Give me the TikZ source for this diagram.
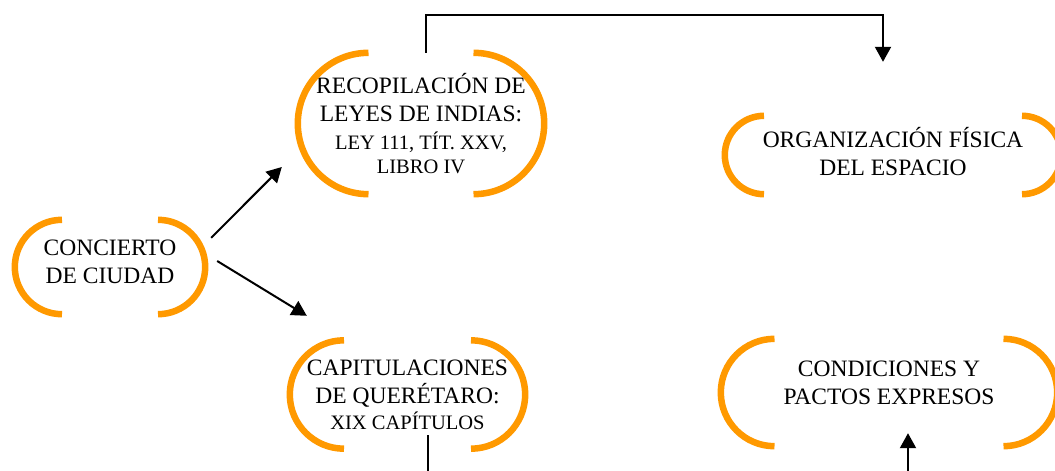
\documentclass[tikz,border=0pt]{standalone}
\usepackage{fontspec}
\setmainfont{Liberation Serif}
\usepackage{tikz}
\usetikzlibrary{arrows.meta}
\usetikzlibrary{calc}
\definecolor{bracketorange}{RGB}{255,153,0}
\newcommand{\smalltext}{\fontsize{20.5}{24}\selectfont}
\tikzset{box/.style={rectangle, inner sep=0pt, align=center, font=\fontsize{23.5}{28}\selectfont}}
\tikzset{bracket/.style={bracketorange, line width=6.5pt}}
\tikzset{link/.style={black, line width=2pt, ->, >={Triangle[length=15pt,width=16pt]}}}

\begin{document}
\begin{tikzpicture}[x=1pt,y=-1pt]
\useasboundingbox (0,0) rectangle (1055,471);
\clip (0,0) rectangle (1055,471);
% nodes
\node[box, minimum width=190pt, minimum height=94pt, text depth=10pt] (concierto) at (110,267) {CONCIERTO\\DE CIUDAD};
\node[box, minimum width=246pt, minimum height=141pt] (recop) at (421,123.5) {RECOPILACIÓN DE\\LEYES DE INDIAS:\\{\smalltext LEY 111, TÍT. XXV,}\\[-4pt]{\smalltext LIBRO IV}};
\node[box, minimum width=336pt, minimum height=78pt, text depth=7pt] (organiz) at (893,155) {ORGANIZACIÓN FÍSICA\\DEL ESPACIO};
\node[box, minimum width=235pt, minimum height=108pt] (capit) at (407.5,394.5) {CAPITULACIONES\\DE QUERÉTARO:\\[-2pt]{\smalltext XIX CAPÍTULOS}};
\node[box, minimum width=336pt, minimum height=107pt, text depth=19pt] (condic) at (889,392.5) {CONDICIONES Y\\PACTOS EXPRESOS};
% brackets
\foreach \nd in {concierto,recop,organiz,capit,condic}
  \draw[bracket] let \p1=(\nd.north), \p2=(\nd.south), \n1={(\y1-\y2)/2} in
    ($(\nd.north west)+(\n1,0)$) arc[start angle=90, end angle=270, radius=\n1]
    ($(\nd.north east)-(\n1,0)$) arc[start angle=90, end angle=-90, radius=\n1];
% connectors
\draw[link] ([shift={(6pt,-18pt)}]concierto.north east) -- ([shift={(-16pt,-43.5pt)}]recop.west);
\draw[link] ([shift={(12pt,6pt)}]concierto.east) -- ([shift={(17pt,24.5pt)}]capit.north west);
\draw[link] ([xshift=5pt]recop.north) |- ([shift={(-10pt,101pt)}]organiz.north) -- ([shift={(-10pt,54pt)}]organiz.north);
\coordinate (capout) at (428,480);
\coordinate (condin) at (908,480);
\draw[black, line width=2pt] ([shift={(20.5pt,13.5pt)}]capit.south) -- (capout);
\draw[link] (condin) -- ([shift={(19pt,13pt)}]condic.south);
\end{tikzpicture}
\end{document}
